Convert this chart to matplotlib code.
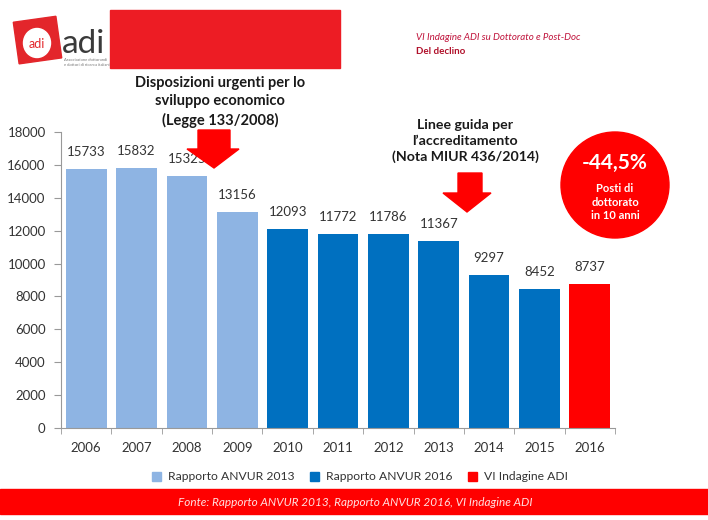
import matplotlib.pyplot as plt
import matplotlib.patches as mpatches
import matplotlib.transforms as mtransforms
import numpy as np

plt.rcParams['font.family'] = ['Lato', 'DejaVu Sans']

# Data
years = ['2006', '2007', '2008', '2009', '2010', '2011', '2012', '2013', '2014', '2015', '2016']
posti = [15733, 15832, 15325, 13156, 12093, 11772, 11786, 11367, 9297, 8452, 8737]
fonte = ['ANVUR 2013'] * 4 + ['ANVUR 2016'] * 6 + ['ADI'] * 1

colori = {'ANVUR 2013': '#8EB4E3', 'ANVUR 2016': '#0070C0', 'ADI': '#FF0000'}
legend_labels = {'ANVUR 2013': 'Rapporto ANVUR 2013', 'ANVUR 2016': 'Rapporto ANVUR 2016',
                 'ADI': 'VI Indagine ADI'}

W, H = 708, 520
fig = plt.figure(figsize=(W / 100, H / 100), dpi=100)

# main chart
ax = fig.add_axes([61 / W, 1 - 428 / H, (615 - 61) / W, (428 - 132) / H])
x = np.arange(len(years))
ax.bar(x, posti, width=0.81, color=[colori[f] for f in fonte])
for xi, v in zip(x, posti):
    ax.annotate(str(v), (xi, v), xytext=(0, 8), textcoords='offset points',
                ha='center', va='bottom', fontsize=9.5, color='#333333')

ax.set_xlim(-0.5, len(years) - 0.5)
ax.set_ylim(0, 18000)
ax.set_yticks(range(0, 18001, 2000))
ax.set_xticks(x)
ax.set_xticklabels(years)
ax.set_xticks(np.arange(-0.5, len(years), 1), minor=True)
ax.tick_params(axis='x', which='major', length=0, pad=10, labelsize=9.5, labelcolor='#333333')
ax.tick_params(axis='x', which='minor', length=4, direction='out', color='#999999')
ax.tick_params(axis='y', length=5, direction='out', color='#999999', labelsize=9.5,
               labelcolor='#333333', pad=6)
for s in ['top', 'right']:
    ax.spines[s].set_visible(False)
for s in ['left', 'bottom']:
    ax.spines[s].set_color('#999999')

# legend
handles = [mpatches.Patch(color=colori[k], label=legend_labels[k]) for k in colori]
fig.legend(handles=handles, loc='center', bbox_to_anchor=(360 / W, 1 - 477 / H), ncol=3,
           frameon=False, fontsize=8.7, handlelength=0.7, handleheight=0.7,
           columnspacing=1.3, handletextpad=0.6, labelcolor='#333333')

# overlay in pixel coordinates for header, arrows, footer
ov = fig.add_axes([0, 0, 1, 1], facecolor='none')
ov.set_xlim(0, W)
ov.set_ylim(H, 0)
ov.axis('off')

narrow = ['Liberation Sans Narrow', 'Lato', 'DejaVu Sans']

# header
ov.add_patch(mpatches.Rectangle((110, 10), 230, 58, color='#ED1C24'))
rot = mtransforms.Affine2D().rotate_deg_around(38, 40, -8) + ov.transData
ov.add_patch(mpatches.Rectangle((16, 19), 43, 42, color='#E3262B', transform=rot))
ov.add_patch(mpatches.Ellipse((37, 43), 27, 29, color='white'))
ov.text(37, 44, 'adi', color='#E3262B', fontsize=9, ha='center', va='center')
ov.text(62, 53, 'adi', color='#3A3A3A', fontsize=24, ha='left', va='baseline')
ov.text(64, 60, 'Associazione dottorandi', color='#777777', fontsize=3, ha='left', va='center')
ov.text(64, 65, 'e dottori di ricerca italiani', color='#777777', fontsize=3, ha='left', va='center')
ov.text(416, 37, 'VI Indagine ADI su Dottorato e Post-Doc', color='#C0143C', fontsize=7,
        style='italic', ha='left', va='center', family=narrow)
ov.text(416, 52, 'Del declino', color='#B0102A', fontsize=7, fontweight='bold',
        ha='left', va='center')

# annotations
ov.text(220, 102, 'Disposizioni urgenti per lo\nsviluppo economico\n(Legge 133/2008)',
        ha='center', va='center', fontsize=10.5, fontweight='bold', color='#1A1A1A',
        linespacing=1.35)
ov.text(465, 141, 'Linee guida per\nl\u2019accreditamento\n(Nota MIUR 436/2014)',
        ha='center', va='center', fontsize=10.2, fontweight='bold', color='#1A1A1A',
        linespacing=1.35)
ov.add_patch(mpatches.Polygon([(198, 130), (230, 130), (230, 149), (239, 149), (214, 168),
                               (187, 149), (198, 149)], closed=True, color='#FF0000'))
ov.add_patch(mpatches.Polygon([(458, 173), (482, 173), (482, 193), (491, 193), (467, 212),
                               (443, 193), (458, 193)], closed=True, color='#FF0000'))

# red circle
ov.add_patch(mpatches.Ellipse((615, 185), 108, 106, color='#FF0000'))
ov.text(615, 163, '-44,5%', ha='center', va='center', fontsize=15, fontweight='bold', color='white')
ov.text(615, 202, 'Posti di\ndottorato\nin 10 anni', ha='center', va='center', fontsize=8,
        fontweight='bold', color='white', linespacing=1.3)

# footer
ov.add_patch(mpatches.Rectangle((0, 489), W, 25, color='#FF0000'))
ov.text(355, 502, 'Fonte: Rapporto ANVUR 2013, Rapporto ANVUR 2016, VI Indagine ADI',
        ha='center', va='center', fontsize=8.5, style='italic', color='#FFE0E0', family=narrow)

fig.savefig('out.png', dpi=100)
